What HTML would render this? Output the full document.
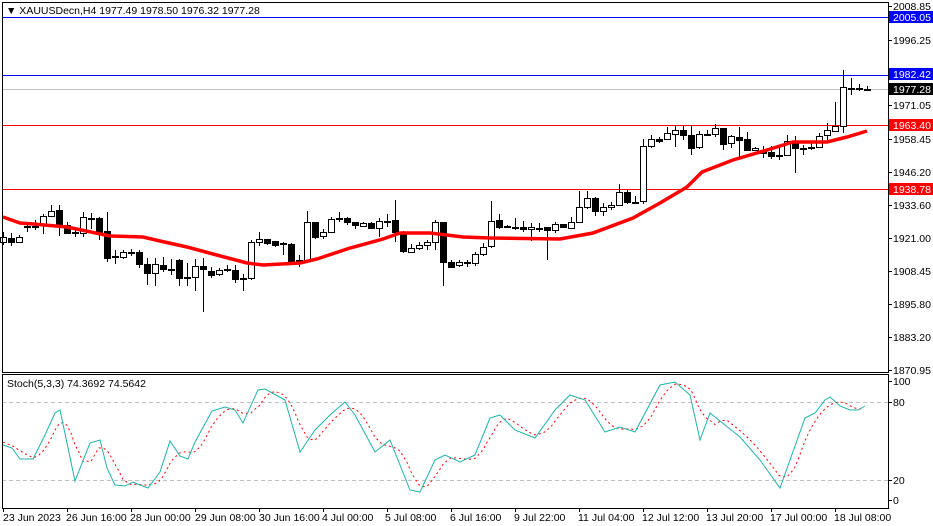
<!DOCTYPE html>
<html><head><meta charset="utf-8"><style>
body{margin:0;background:#fff;}
svg{display:block;font-family:"Liberation Sans",sans-serif;font-size:10.5px;}
</style></head><body>
<svg id="s" width="933" height="526" xmlns="http://www.w3.org/2000/svg" shape-rendering="crispEdges">
<rect width="933" height="526" fill="#fff"/>
<g id="g"></g>
<text x="6" y="14" fill="#000">▼ XAUUSDecn,H4  1977.49 1978.50 1976.32 1977.28</text>
<text x="7" y="387" fill="#000">Stoch(5,3,3) 74.3692 74.5642</text>
<g fill="#000" font-size="10.5">
<text x="893" y="10">2008.85</text>
<text x="893" y="44">1996.25</text>
<text x="893" y="109">1971.05</text>
<text x="893" y="143">1958.45</text>
<text x="893" y="176">1946.20</text>
<text x="893" y="209">1933.60</text>
<text x="893" y="242">1921.00</text>
<text x="893" y="275">1908.45</text>
<text x="893" y="308">1895.80</text>
<text x="893" y="341">1883.20</text>
<text x="893" y="374">1870.95</text>
<text x="893" y="385">100</text>
<text x="893" y="406">80</text>
<text x="893" y="484">20</text>
<text x="893" y="504">0</text>
</g>
<rect x="889" y="11" width="44" height="12" fill="#0000ff"/><text x="893" y="21" fill="#fff">2005.05</text>
<rect x="889" y="68" width="44" height="12" fill="#0000ff"/><text x="893" y="78" fill="#fff">1982.42</text>
<rect x="889" y="83" width="44" height="12" fill="#000"/><text x="893" y="93" fill="#fff">1977.28</text>
<rect x="889" y="119" width="44" height="12" fill="#ff0000"/><text x="893" y="129" fill="#fff">1963.40</text>
<rect x="889" y="183" width="44" height="12" fill="#ff0000"/><text x="893" y="193" fill="#fff">1938.78</text>
<g fill="#000" font-size="10.5">
<text x="3" y="521">23 Jun 2023</text>
<text x="66" y="521">26 Jun 16:00</text>
<text x="130" y="521">28 Jun 00:00</text>
<text x="195" y="521">29 Jun 08:00</text>
<text x="259" y="521">30 Jun 16:00</text>
<text x="322" y="521">4 Jul 00:00</text>
<text x="385" y="521">5 Jul 08:00</text>
<text x="450" y="521">6 Jul 16:00</text>
<text x="514" y="521">9 Jul 22:00</text>
<text x="578" y="521">11 Jul 04:00</text>
<text x="642" y="521">12 Jul 12:00</text>
<text x="706" y="521">13 Jul 20:00</text>
<text x="770" y="521">17 Jul 00:00</text>
<text x="834" y="521">18 Jul 08:00</text>
</g>
</svg>
<script>
var g=document.getElementById('g'),h='';
function L(x1,y1,x2,y2,c,w,d){h+='<line x1="'+x1+'" y1="'+y1+'" x2="'+x2+'" y2="'+y2+'" stroke="'+c+'" stroke-width="'+(w||1)+'"'+(d?' stroke-dasharray="'+d+'"':'')+'/>';}
function H(y,c){h+='<rect x="3" y="'+y+'" width="885" height="1" fill="'+c+'"/>';}
H(17,'#0000ff');H(75,'#0000ff');H(89,'#c0c0c0');H(125,'#ff0000');H(189,'#ff0000');
L(2,402.5,888,402.5,'#c0c0c0',1,'4,3');L(2,480.5,888,480.5,'#c0c0c0',1,'4,3');
var C=[[3,232,237,242,245,'h'],[11,233,238,242,246,'b'],[19,235,237,242,243,'h'],[27,222,226,227,232,'c'],[35,220,226,227,230,'c'],[43,214,216,225,234,'h'],[51,205,211,216,216,'h'],[59,205,210,226,236,'b'],[67,222,225,233,234,'b'],[75,228,232,233,237,'c'],[83,212,217,233,237,'h'],[91,213,218,219,229,'c'],[99,217,218,232,240,'b'],[107,212,231,258,262,'b'],[115,250,256,257,264,'c'],[123,250,252,257,259,'h'],[131,249,252,253,256,'c'],[139,250,252,264,268,'b'],[147,258,264,273,285,'b'],[155,258,264,273,286,'h'],[163,257,265,269,272,'b'],[171,259,269,270,275,'c'],[179,259,260,278,286,'b'],[187,263,277,278,286,'c'],[195,259,266,277,291,'h'],[203,258,266,269,312,'b'],[211,267,271,275,278,'b'],[219,268,270,274,276,'h'],[227,265,269,270,272,'c'],[235,265,270,279,283,'b'],[243,274,278,279,291,'c'],[251,240,242,278,280,'h'],[259,232,239,242,246,'h'],[267,239,239,243,245,'b'],[275,241,241,245,247,'b'],[283,242,243,244,255,'c'],[291,243,244,261,261,'b'],[299,255,260,261,267,'c'],[307,211,222,260,262,'h'],[315,222,222,237,239,'b'],[323,229,232,236,239,'h'],[331,217,219,232,232,'h'],[339,212,218,219,222,'c'],[347,217,218,222,225,'b'],[355,222,222,225,229,'b'],[363,222,223,226,227,'h'],[371,222,223,228,229,'b'],[379,218,221,228,237,'h'],[387,214,221,222,227,'c'],[395,200,220,232,242,'b'],[403,231,232,251,253,'b'],[411,244,248,252,253,'h'],[419,242,245,248,250,'h'],[427,240,242,245,250,'h'],[435,220,222,242,250,'h'],[443,222,222,262,286,'b'],[451,260,262,267,268,'b'],[459,260,262,265,267,'h'],[467,260,262,263,267,'c'],[475,252,254,263,266,'h'],[483,243,247,254,256,'h'],[491,201,221,246,248,'h'],[499,214,220,227,229,'b'],[507,225,226,227,228,'c'],[515,218,227,228,230,'c'],[523,221,227,229,232,'b'],[531,223,227,229,241,'h'],[539,223,228,229,232,'c'],[547,227,227,230,260,'b'],[555,222,224,230,233,'h'],[563,224,224,227,228,'b'],[571,217,222,228,229,'h'],[579,191,207,222,223,'h'],[587,191,198,207,209,'h'],[595,197,198,211,216,'b'],[603,203,207,211,216,'h'],[611,202,205,207,210,'h'],[619,184,192,205,206,'h'],[627,190,192,202,204,'b'],[635,196,202,203,204,'c'],[643,139,146,201,204,'h'],[651,135,139,146,148,'h'],[659,137,139,141,143,'b'],[667,127,133,139,140,'h'],[675,125,130,134,147,'h'],[683,126,130,135,140,'b'],[691,125,135,148,155,'b'],[699,131,134,147,149,'h'],[707,130,134,135,136,'c'],[715,124,128,134,137,'h'],[723,128,128,144,150,'b'],[731,135,136,143,148,'h'],[739,127,137,140,159,'b'],[747,132,139,150,150,'b'],[755,147,148,150,151,'h'],[763,146,150,153,158,'b'],[771,146,152,156,159,'b'],[779,147,155,156,160,'c'],[787,135,141,155,155,'h'],[795,136,141,148,173,'b'],[803,145,148,149,155,'c'],[811,143,147,148,150,'c'],[819,133,136,147,148,'h'],[827,123,130,135,140,'h'],[835,102,126,131,132,'h'],[843,70,87,126,133,'h'],[851,78,88,89,95,'c'],[859,84,88,89,91,'c'],[867,86,89,90,91,'c']];
C.forEach(function(c){var x=c[0];h+='<rect x="'+x+'" y="'+c[1]+'" width="1" height="'+(c[4]-c[1])+'" fill="#000"/>';
 if(c[5]=='c'){h+='<rect x="'+(x-3)+'" y="'+c[2]+'" width="7" height="2" fill="#000"/>';}
 else h+='<rect x="'+(x-2.5)+'" y="'+(c[2]+0.5)+'" width="6" height="'+Math.max(1,c[3]-c[2])+'" fill="'+(c[5]=='h'?'#fff':'#000')+'" stroke="#000"/>';});
var M=[[3,217],[20,223],[33,224],[67,227],[110,236],[143,237],[160,241],[187,247],[213,254],[247,263],[263,265],[300,263],[317,259],[350,248],[383,239],[400,233],[430,233],[463,237],[490,238],[560,239],[593,233],[633,218],[660,203],[687,187],[702,172],[733,160],[767,150],[793,142],[827,142],[847,137],[867,131]];
h+='<polyline fill="none" stroke="#ff0000" stroke-width="3.5" shape-rendering="auto" points="'+M.map(function(p){return p.join(',')}).join(' ')+'"/>';
var S=[[3,445],[12,448],[20,459],[33,459],[45,435],[55,413],[60,410],[75,481],[90,443],[100,440],[107,468],[115,485],[125,486],[133,482],[140,485],[148,488],[160,472],[170,441],[180,456],[188,459],[195,442],[212,411],[225,407],[235,410],[243,423],[258,390],[265,389],[285,400],[300,452],[315,430],[330,415],[345,402],[355,415],[375,452],[390,440],[410,490],[420,492],[435,460],[445,455],[460,462],[475,455],[490,418],[500,415],[515,430],[535,438],[555,410],[570,395],[585,400],[605,432],[620,427],[635,432],[660,385],[675,382],[690,395],[700,440],[710,413],[725,425],[740,437],[760,460],[780,488],[790,460],[805,418],[815,413],[825,400],[830,397],[840,406],[850,410],[858,410],[865,406]];
function at(x){for(var i=1;i<S.length;i++){if(S[i][0]>=x){var a=S[i-1],b=S[i];return a[1]+(b[1]-a[1])*(x-a[0])/(b[0]-a[0]);}}return S[S.length-1][1];}
var sig=[];for(var x=3;x<=865;x+=4){var v=(at(x)+at(x-8)+at(x-16))/3;sig.push(x+','+v.toFixed(1));}
h+='<polyline fill="none" stroke="#ff0000" stroke-width="1" shape-rendering="auto" stroke-dasharray="2,3" points="'+sig.join(' ')+'"/>';
h+='<polyline fill="none" stroke="#20b2aa" stroke-width="1" shape-rendering="auto" points="'+S.map(function(p){return p.join(',')}).join(' ')+'"/>';
h+='<rect x="2.5" y="2.5" width="886" height="370" fill="none" stroke="#000"/>';
h+='<rect x="2.5" y="374.5" width="886" height="134" fill="none" stroke="#000"/>';
[6,40,105,139,172,205,238,271,304,337,370,381,402,480,500].forEach(function(y){h+='<rect x="888" y="'+y+'" width="4" height="1" fill="#000"/>';});
for(var i=0;i<14;i++){var tx=3+64*i;h+='<rect x="'+tx+'" y="508" width="1" height="4" fill="#000"/>';}
g.innerHTML=h;
</script>
</body></html>
